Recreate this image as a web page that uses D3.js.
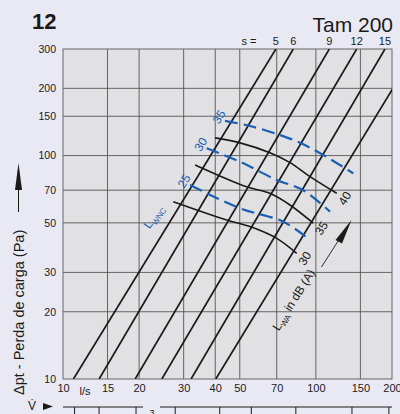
<!DOCTYPE html>
<html><head><meta charset="utf-8">
<script src="https://cdn.jsdelivr.net/npm/d3@7"></script>
<style>
body{margin:0;background:#e9e9f3;}
svg{display:block;font-family:"Liberation Sans",Arial,Helvetica,sans-serif;}
</style>
</head><body>
<svg id="c" width="400" height="414"></svg>
<script>
// ---- data ----
const xTicks = [10,15,20,30,40,50,70,100,150,200];
const yTicks = [10,20,30,50,70,100,150,200,300];
const xGrid = [15,20,30,40,50,70,100,150];
const yGrid = [20,30,50,70,100,150,200];
const m3Ticks = [40,50,70,100,150,200,300,500,700];
// s-lines (damper setting): flow [l/s] at 10 Pa and at 300 Pa
const sLabels = ["5","6","9","12","15",""];
const sVlow  = [11.0,13.9,19.3,24.6,32.1,40.2];
const sVhigh = [69.5,81.4,113,145,187.6,251];
// LWA sound power curves [l/s, Pa]
const lwaLabels = ["30","35","40"];
const lwa30 = [[27.3,62.2],[44.4,51.5],[54.9,48.1],[70,42.6],[84,36.5]];
const lwa35 = [[33.3,90.8],[53.2,72.5],[65.8,67.8],[79,60.1],[97.7,49.8]];
const lwa40 = [[39.9,120],[50.1,114],[65.8,103],[79,93],[94.8,80.5],[120.9,67.8]];
// LWNC curves [l/s, Pa]
const nrLabels = ["25","30","35"];
const nc25 = [[31.8,73.8],[50.1,58.1],[74.3,50.6],[94.8,41.9]];
const nc30 = [[37,107.8],[50.1,93.9],[70,77.8],[88.9,70.1],[113.7,56.1]];
const nc35 = [[43.7,143],[54.9,135.7],[72.1,123.6],[86.5,114.2],[107,100.6],[140.6,83.3]];

// ---- layout ----
const L=63,R=392,T=49,B=379;
const svg = d3.select("#c");
const x = d3.scaleLog().domain([10,200]).range([L,R]);
const y = d3.scaleLog().domain([10,300]).range([B,T]);
const m3 = d3.scaleLog().domain([36,720]).range([L,R]);
const blue = "#1a5fb4";
const ink = "#1a1a1a";

svg.append("defs").append("clipPath").attr("id","pc")
  .append("rect").attr("x",L).attr("y",T).attr("width",R-L).attr("height",B-T);

svg.append("rect").attr("x",L).attr("y",T).attr("width",R-L).attr("height",B-T)
  .attr("fill","#e1e1e3");

// grid
const g = svg.append("g").attr("stroke","#555").attr("stroke-width",0.9);
g.selectAll(".vx").data(xGrid).join("line")
  .attr("x1",d=>x(d)).attr("x2",d=>x(d)).attr("y1",T).attr("y2",B);
g.selectAll(".hy").data(yGrid).join("line")
  .attr("y1",d=>y(d)).attr("y2",d=>y(d)).attr("x1",L).attr("x2",R);
svg.append("rect").attr("x",L).attr("y",T).attr("width",R-L).attr("height",B-T)
  .attr("fill","none").attr("stroke","#666").attr("stroke-width",1);

// axes labels
const ya = svg.append("g").attr("transform",`translate(${L-7},0)`)
  .call(d3.axisLeft(y).tickValues(yTicks).tickFormat(d3.format("d")).tickSize(0).tickPadding(0));
ya.select(".domain").remove();
ya.selectAll("text").attr("font-size",10.5).attr("fill",ink).attr("font-family","Liberation Sans, Arial, sans-serif");

const xa = svg.append("g").attr("transform",`translate(0,${B+5})`)
  .call(d3.axisBottom(x).tickValues(xTicks).tickFormat(d3.format("d")).tickSize(0).tickPadding(0));
xa.select(".domain").remove();
xa.selectAll("text").attr("font-size",11).attr("fill",ink).attr("font-family","Liberation Sans, Arial, sans-serif");
svg.append("text").attr("x",85).attr("y",395).attr("text-anchor","middle")
  .attr("font-size",11).attr("fill",ink).text("l/s");

// s-lines
const pc = svg.append("g").attr("clip-path","url(#pc)");
pc.selectAll(".s").data(sVlow).join("line")
  .attr("x1",(d)=>x(d)).attr("y1",y(10))
  .attr("x2",(d,i)=>x(sVhigh[i])).attr("y2",y(300))
  .attr("stroke",ink).attr("stroke-width",1.7);

svg.append("text").attr("x",249).attr("y",44.5).attr("text-anchor","middle")
  .attr("font-size",11).attr("fill",ink).text("s =");
svg.selectAll(".sl").data(sLabels).join("text")
  .attr("x",(d,i)=>x(sVhigh[i])).attr("y",44.5).attr("text-anchor","middle")
  .attr("font-size",11).attr("fill",ink).text(d=>d);

// curves
const line = d3.line().x(d=>x(d[0])).y(d=>y(d[1])).curve(d3.curveCatmullRom.alpha(0.5));
const lwa = [lwa30,lwa35,lwa40];
pc.selectAll(".lwa").data(lwa).join("path")
  .attr("d",line).attr("fill","none").attr("stroke",ink).attr("stroke-width",1.6);
const nc = [nc25,nc30,nc35];
pc.selectAll(".nc").data(nc).join("path")
  .attr("d",line).attr("fill","none").attr("stroke",blue).attr("stroke-width",2.2)
  .attr("stroke-dasharray","13,6");

// curve labels
const rot = -58;
svg.selectAll(".lwal").data(lwa).join("text")
  .attr("transform",d=>{const p=d[d.length-1];return `translate(${x(p[0])+8},${y(p[1])+5}) rotate(${rot})`;})
  .attr("text-anchor","middle").attr("dy","0.35em").attr("font-size",12).attr("fill",ink)
  .text((d,i)=>lwaLabels[i]);
svg.selectAll(".ncl").data(nc).join("text")
  .attr("transform",d=>{const p=d[0];return `translate(${x(p[0])-6},${y(p[1])-4}) rotate(${rot})`;})
  .attr("text-anchor","middle").attr("dy","0.35em").attr("font-size",12).attr("fill",blue)
  .text((d,i)=>nrLabels[i]);

// LWNC label
const lw = svg.append("text").attr("transform","translate(157,219) rotate(-55)")
  .attr("text-anchor","middle").attr("font-size",12).attr("fill",blue);
lw.append("tspan").text("L");
lw.append("tspan").attr("font-size",8).attr("dy",3).text("WNC");

// LWA label
const la = svg.append("text").attr("transform","translate(297,302) rotate(-58)")
  .attr("text-anchor","middle").attr("font-size",12).attr("fill",ink);
la.append("tspan").text("L");
la.append("tspan").attr("font-size",8).attr("dy",3).text("WA");
la.append("tspan").attr("dy",-3).text(" in dB (A)");

// LWA arrow
svg.append("line").attr("x1",321.5).attr("y1",267).attr("x2",340).attr("y2",238)
  .attr("stroke",ink).attr("stroke-width",0.9);
svg.append("path").attr("d","M351.5,220 L335.5,240 L342,243.5 Z").attr("fill",ink);

// titles
svg.append("text").attr("x",32).attr("y",29).attr("font-size",22).attr("font-weight","bold")
  .attr("fill",ink).text("12");
svg.append("text").attr("x",393).attr("y",31.5).attr("text-anchor","end").attr("font-size",21)
  .attr("fill",ink).text("Tam 200");

// y title + arrow
svg.append("text").attr("transform","translate(23.5,395) rotate(-90)")
  .attr("font-size",14.5).attr("fill",ink).text("Δpt - Perda de carga (Pa)");
svg.append("line").attr("x1",18.5).attr("y1",212).attr("x2",18.5).attr("y2",185)
  .attr("stroke",ink).attr("stroke-width",1);
svg.append("path").attr("d","M18.5,163 L15,190 L22,190 Z").attr("fill",ink);

// bottom V axis (m3/h)
svg.append("text").attr("x",32).attr("y",410).attr("text-anchor","middle")
  .attr("font-size",12).attr("fill",ink).text("V\u0307");
svg.append("path").attr("d","M43,403 L53,406.5 L43,410 Z").attr("fill",ink);
const yb = 407;
svg.append("line").attr("x1",L).attr("x2",143).attr("y1",yb).attr("y2",yb).attr("stroke",ink).attr("stroke-width",1);
svg.append("line").attr("x1",160).attr("x2",R).attr("y1",yb).attr("y2",yb).attr("stroke",ink).attr("stroke-width",1);
svg.selectAll(".m3").data(m3Ticks).join("line")
  .attr("x1",d=>m3(d)).attr("x2",d=>m3(d)).attr("y1",yb).attr("y2",414)
  .attr("stroke",ink).attr("stroke-width",1);
svg.append("text").attr("x",152).attr("y",416).attr("text-anchor","middle")
  .attr("font-size",9).attr("fill",ink).text("3");
</script>
</body></html>
